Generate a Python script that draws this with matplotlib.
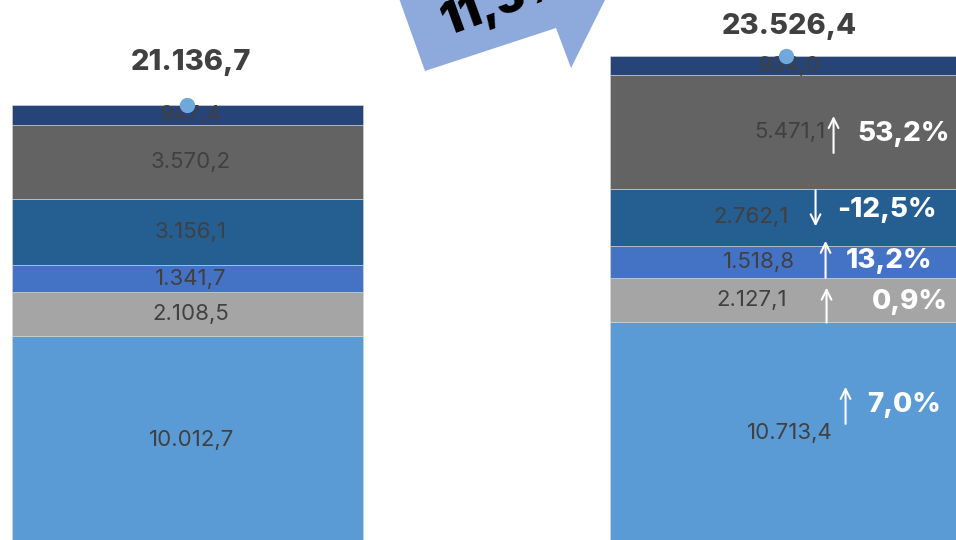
import matplotlib
matplotlib.use("Agg")
import matplotlib.pyplot as plt
from matplotlib.patches import Polygon
from matplotlib.transforms import offset_copy

plt.rcParams['font.family'] = ['Inter', 'DejaVu Sans']

# data
periods = ['antes', 'depois']
segment_colors = ['#5B9BD5', '#A5A5A5', '#4472C4', '#255E91', '#636363', '#264478']
before = [10012.7, 2108.5, 1341.7, 3156.1, 3570.2, 947.4]
after = [10713.4, 2127.1, 1518.8, 2762.1, 5471.1, 934.0]
totals = [21136.7, 23526.4]
growth_total = '11,3%'


def fmt(v, dec=1):
    s = f"{v:,.{dec}f}"
    return s.replace(',', 'X').replace('.', ',').replace('X', '.')


fig = plt.figure(figsize=(9.56, 5.40), dpi=100)
ax = fig.add_axes([0, 0, 1, 1])
ax.set_xlim(-0.3135, 1.285)
ax.set_ylim(193, 26216)
ax.axis('off')

xs = [0, 1]
width = 0.587
for xi, vals in zip(xs, [before, after]):
    bottom = 0
    for v, c in zip(vals, segment_colors):
        ax.bar(xi, v, width, bottom=bottom, color=c, edgecolor='#d9d9d9',
               linewidth=0.4, zorder=2)
        bottom += v

# value labels (pixel shifts from the segment centre)
label_dx = [[4, 3, 3, 3, 3, 3], [4, -34, -27, -34, 4, 3]]
for xi, vals, shifts in zip(xs, [before, after], label_dx):
    bottom = 0
    for v, dx in zip(vals, shifts):
        ax.annotate(fmt(v), xy=(xi, bottom + v / 2), xytext=(dx, 0),
                    textcoords='offset pixels', ha='center', va='center',
                    fontsize=16, color='#404040', zorder=4)
        bottom += v

# change per segment
pct_dx = [82, 86, 60, 52, 72]
pct_dy = [28, -2, 1, 7, -2]
arrow_dx = [60, 41, 40, 30, 48]
arrow_span = [(9, 46), (-23, 12), (-16, 21), (-9, 27), (-21, 16)]
bottom = 0
for i in range(5):
    c = bottom + after[i] / 2
    ch = (after[i] / before[i] - 1) * 100
    ax.annotate(fmt(ch) + '%', xy=(1, c), xytext=(pct_dx[i], pct_dy[i]),
                textcoords='offset pixels', ha='left', va='center',
                fontsize=20, fontweight='heavy', color='white', zorder=5)
    lo, hi = arrow_span[i]
    tail, head = (lo, hi) if ch > 0 else (hi, lo)
    ax.annotate('', xy=(1, c),
                xycoords=offset_copy(ax.transData, fig=fig, x=arrow_dx[i], y=head, units='dots'),
                xytext=(1, c),
                textcoords=offset_copy(ax.transData, fig=fig, x=arrow_dx[i], y=tail, units='dots'),
                arrowprops=dict(arrowstyle='->,head_length=0.7,head_width=0.35',
                                color='white', lw=1.5, shrinkA=0, shrinkB=0),
                zorder=5)
    bottom += after[i]

# totals
ax.plot(xs, totals, 'o', color='#6FA8DC', markersize=10, zorder=6)
total_dy = [43, 29]
total_dx = [4, 4]
for xi, t, dy, dx in zip(xs, totals, total_dy, total_dx):
    ax.annotate(fmt(t), xy=(xi, t), xytext=(dx, dy), textcoords='offset pixels',
                ha='center', va='center', fontsize=21, fontweight='heavy',
                color='#404040', zorder=6)

# growth callout
ov = fig.add_axes([0, 0, 1, 1])
ov.set_xlim(0, 956)
ov.set_ylim(540, 0)
ov.axis('off')
ov.add_patch(Polygon([(396, -10), (425, 71), (556, 28), (571, 68), (610, -10)],
                     closed=True, facecolor='#8EA9DB', edgecolor='none'))
ov.text(447, 36, growth_total, rotation=20, rotation_mode='anchor',
        ha='left', va='baseline', fontsize=32, fontweight='black', color='black')

fig.savefig('out.png', dpi=100)
